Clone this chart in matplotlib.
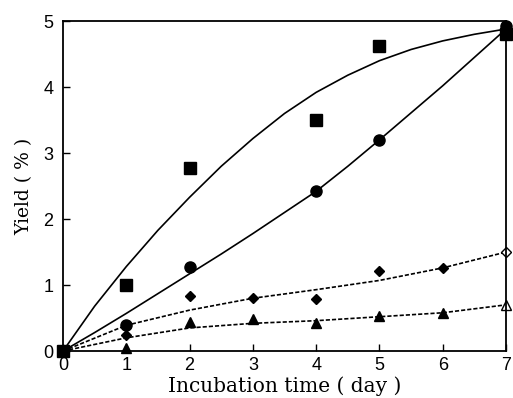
import matplotlib.pyplot as plt

# measured points
days_a = [0, 1, 2, 4, 5, 7]
square_y = [0, 1.0, 2.77, 3.5, 4.62, 4.8]
circle_y = [0, 0.4, 1.27, 2.43, 3.2, 4.93]
days_b = [0, 1, 2, 3, 4, 5, 6, 7]
diamond_y = [0, 0.25, 0.83, 0.81, 0.79, 1.21, 1.26, 1.5]
triangle_y = [0, 0.05, 0.44, 0.48, 0.43, 0.53, 0.58, 0.7]

# fitted curves (half-day steps)
curve_x = [0, 0.5, 1, 1.5, 2, 2.5, 3, 3.5, 4, 4.5, 5, 5.5, 6, 6.5, 7]
square_fit = [0, 0.68, 1.28, 1.83, 2.33, 2.8, 3.22, 3.6, 3.92, 4.18, 4.4, 4.57, 4.7, 4.8, 4.88]
circle_fit = [0, 0.28, 0.57, 0.87, 1.17, 1.47, 1.78, 2.1, 2.42, 2.8, 3.2, 3.61, 4.02, 4.45, 4.88]
dash_x = [0, 1, 2, 3, 4, 5, 6, 7]
diamond_fit = [0, 0.39, 0.62, 0.8, 0.93, 1.07, 1.26, 1.5]
triangle_fit = [0, 0.2, 0.35, 0.42, 0.46, 0.52, 0.58, 0.7]

plt.rcParams['font.family'] = ['Liberation Sans', 'DejaVu Sans']

fig = plt.figure(figsize=(5.13, 3.98), dpi=100)
ax = fig.add_axes([0.1228, 0.118, 0.8636, 0.829])

ax.plot(curve_x, square_fit, color='black', lw=1.2)
ax.plot(curve_x, circle_fit, color='black', lw=1.2)
ax.plot(dash_x, diamond_fit, color='black', lw=1.2, ls=(0, (2.5, 1.2)))
ax.plot(dash_x, triangle_fit, color='black', lw=1.2, ls=(0, (2.5, 1.2)))

ax.plot(days_a, square_y, 's', color='black', ms=8, clip_on=False)
ax.plot(days_a, circle_y, 'o', color='black', ms=8, clip_on=False)
ax.plot(days_b[:-1], diamond_y[:-1], 'D', color='black', ms=5.5, clip_on=False)
ax.plot(days_b[-1:], diamond_y[-1:], 'D', mfc='white', mec='black', ms=5.5, clip_on=False)
ax.plot(days_b[:-1], triangle_y[:-1], '^', color='black', ms=7, clip_on=False)
ax.plot(days_b[-1:], triangle_y[-1:], '^', mfc='white', mec='black', ms=7, clip_on=False)

ax.set_xlim(0, 7)
ax.set_ylim(0, 5)
ax.set_xticks(range(8))
ax.set_yticks(range(6))
ax.tick_params(direction='in', length=5, width=1, labelsize=13)
ax.tick_params(axis='y', pad=7)
ax.tick_params(axis='x', pad=4)
for s in ax.spines.values():
    s.set_linewidth(1.3)

ax.set_xlabel('Incubation time ( day )', family='DejaVu Serif', fontsize=14.5, labelpad=2)
ax.set_ylabel('Yield ( % )', family='DejaVu Serif', fontsize=13.5, labelpad=7)

fig.savefig('out.png', dpi=100)
